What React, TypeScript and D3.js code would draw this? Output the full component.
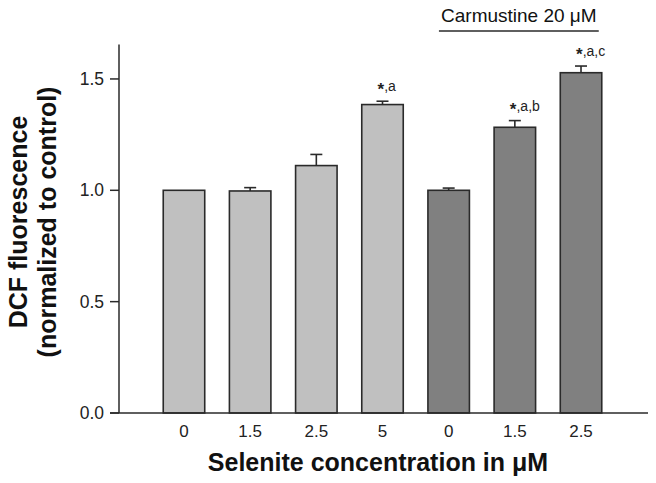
import React from "react";
import * as d3 from "d3";

const categories = ["0", "1.5", "2.5", "5", "0 ", "1.5 ", "2.5 "];
const tickLabels = ["0", "1.5", "2.5", "5", "0", "1.5", "2.5"];
const values = [1.0, 0.997, 1.111, 1.385, 1.0, 1.283, 1.528];
const errors = [0, 0.015, 0.05, 0.015, 0.01, 0.03, 0.03];
const groups = ["control", "control", "control", "control", "carmustine", "carmustine", "carmustine"];
const annotations = ["", "", "", ",a", "", ",a,b", ",a,c"];
const yTicks = [0, 0.5, 1.0, 1.5];

const W = 656;
const H = 483;
const FONT = "'Liberation Sans', Arial, Helvetica, sans-serif";

export default function App() {
  const axisX = 119;
  const axisRight = 648;
  const y = d3.scaleLinear().domain([0, 1]).range([413, 190.3]);
  const yTop = y(1.655);
  const x = d3
    .scaleBand<string>()
    .domain(categories)
    .range([150.9, 614.1])
    .paddingInner(0.373)
    .paddingOuter(0.1865);
  const bw = x.bandwidth();
  const fill = (g: string) => (g === "control" ? "#c0c0c0" : "#808080");
  const stroke = "#2a2a2a";
  const carmLeft = x(categories[4])! + 11;
  const carmRight = x(categories[6])! + bw - 3;

  return (
    <svg width={W} height={H} style={{ position: "absolute", left: 0, top: 0, background: "#fff" }} fontFamily={FONT}>
      {/* bars */}
      {categories.map((c, i) => {
        const x0 = x(c)!;
        const cx = x0 + bw / 2;
        const top = y(values[i]);
        const capY = y(values[i] + errors[i]);
        return (
          <g key={c}>
            <rect x={x0} y={top} width={bw} height={y(0) - top} fill={fill(groups[i])} stroke={stroke} strokeWidth={1.6} />
            {errors[i] > 0 && (
              <g stroke={stroke} strokeWidth={1.6}>
                <line x1={cx} x2={cx} y1={top} y2={capY} />
                <line x1={cx - 6} x2={cx + 6} y1={capY} y2={capY} />
              </g>
            )}
            {annotations[i] && (
              <text x={cx - 5} y={capY - 10} fontSize={14} fill="#222">
                <tspan fontWeight="bold" fontSize={17} dy={4}>*</tspan>
                <tspan dy={-4}>{annotations[i]}</tspan>
              </text>
            )}
          </g>
        );
      })}
      {/* y axis */}
      <line x1={axisX} x2={axisX} y1={yTop} y2={y(0)} stroke={stroke} strokeWidth={1.5} />
      <line x1={axisX - 9} x2={axisRight} y1={y(0)} y2={y(0)} stroke={stroke} strokeWidth={1.5} />
      {yTicks.map((t) => (
        <g key={t}>
          <line x1={axisX - 9} x2={axisX} y1={y(t)} y2={y(t)} stroke={stroke} strokeWidth={1.5} />
          <text x={axisX - 15} y={y(t)} dy="0.35em" textAnchor="end" fontSize={17.5} fill="#222">
            {t.toFixed(1)}
          </text>
        </g>
      ))}
      {/* x tick labels */}
      {categories.map((c, i) => (
        <text key={c} x={x(c)! + bw / 2} y={437} textAnchor="middle" fontSize={17} fill="#222">
          {tickLabels[i]}
        </text>
      ))}
      {/* axis titles */}
      <text x={378} y={471} textAnchor="middle" fontSize={25} fontWeight="bold" fill="#111">
        Selenite concentration in μM
      </text>
      <text transform="translate(27,222) rotate(-90)" textAnchor="middle" fontSize={25} fontWeight="bold" fill="#111">
        DCF fluorescence
      </text>
      <text transform="translate(56,222) rotate(-90)" textAnchor="middle" fontSize={25} fontWeight="bold" fill="#111">
        (normalized to control)
      </text>
      {/* carmustine annotation */}
      <text x={(carmLeft + carmRight) / 2} y={22} textAnchor="middle" fontSize={19} fill="#111">
        Carmustine 20 μM
      </text>
      <line x1={carmLeft} x2={carmRight} y1={31} y2={31} stroke={stroke} strokeWidth={1.5} />
    </svg>
  );
}
